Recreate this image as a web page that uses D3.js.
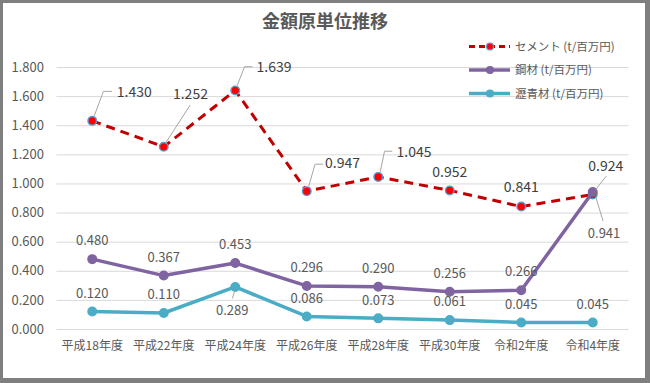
<!DOCTYPE html>
<html>
<head>
<meta charset="utf-8">
<script src="https://cdn.jsdelivr.net/npm/d3@7"></script>
<style>
  html, body { margin: 0; padding: 0; background: #fff; }
  svg { display: block; }
  text { font-family: "Noto Sans CJK JP", "Noto Sans", sans-serif; }
</style>
</head>
<body>
<svg id="chart" width="650" height="383"></svg>
<script>
// ---- data ----
const title = "金額原単位推移";
const categories = ["平成18年度", "平成22年度", "平成24年度", "平成26年度", "平成28年度", "平成30年度", "令和2年度", "令和4年度"];
const seriesNames = ["セメント (t/百万円)", "鋼材 (t/百万円)", "瀝青材 (t/百万円)"];
const cementValues = [1.430, 1.252, 1.639, 0.947, 1.045, 0.952, 0.841, 0.924];
const steelValues = [0.480, 0.367, 0.453, 0.296, 0.290, 0.256, 0.266, 0.941];
const asphaltValues = [0.120, 0.110, 0.289, 0.086, 0.073, 0.061, 0.045, 0.045];
const yTicks = [0, 0.2, 0.4, 0.6, 0.8, 1.0, 1.2, 1.4, 1.6, 1.8];

// ---- layout / style (not data) ----
const W = 650, H = 383;
const plot = { left: 56.5, right: 628.5, top: 67, bottom: 329 };
const colors = { cement: "#C00000", cementMarker: "#FF0000", cementRing: "#5B9BD5", steel: "#8064A2", asphalt: "#4BACC6" };
// label placement relative to point: [dx, dy, anchor, leader points relative to point or null]
const cementLabelPos = [
  { dx: 24.5, dy: -29, anchor: "start", leader: [[2, -5], [11.2, -29.5], [19.7, -29.5]] },
  { dx: 26.7, dy: -52.7, anchor: "middle", leader: [[2, -4], [26.4, -41.7]] },
  { dx: 21.3, dy: -23.7, anchor: "start", leader: [[2, -5], [9.3, -23.7], [17.3, -23.7]] },
  { dx: 18.3, dy: -28, anchor: "start", leader: [[2, -5], [8.3, -27], [16.3, -27]] },
  { dx: 18.3, dy: -25, anchor: "start", leader: [[2, -5], [6.3, -25.7], [14, -25.7]] },
  { dx: 0, dy: -18.5, anchor: "middle", leader: null },
  { dx: 0, dy: -19, anchor: "middle", leader: null },
  { dx: 13, dy: -28.3, anchor: "middle", leader: [[3, -5], [13.4, -18.3]] }
];
const steelLabelPos = steelValues.map((v, i) => i === 7
  ? { dx: 11.3, dy: 41.5, anchor: "middle", leader: [[3, 5], [10.3, 29]] }
  : { dx: 0, dy: -18.6, anchor: "middle", leader: null });
const asphaltLabelPos = asphaltValues.map((v, i) => i === 2
  ? { dx: -3, dy: 24, anchor: "middle", leader: [[-0.5, 4], [-3, 11.6]] }
  : { dx: 0, dy: -18.4, anchor: "middle", leader: null });

const svg = d3.select("#chart");

// frame
svg.append("rect").attr("x", 0).attr("y", 0).attr("width", W).attr("height", H).attr("fill", "#7F7F7F");
svg.append("rect").attr("x", 3).attr("y", 3).attr("width", 642).attr("height", 375).attr("fill", "#FFFFFF");

// scales
const x = d3.scaleBand().domain(categories).range([plot.left, plot.right]).padding(0);
const y = d3.scaleLinear().domain([0, 1.8]).range([plot.bottom, plot.top]);
const cx = c => x(c) + x.bandwidth() / 2;

// y axis + gridlines
const yAxis = svg.append("g")
  .attr("transform", `translate(${plot.left},0)`)
  .call(d3.axisLeft(y).tickValues(yTicks).tickFormat(d3.format(".3f"))
    .tickSize(-(plot.right - plot.left)).tickPadding(12.5));
yAxis.select(".domain").remove();
yAxis.selectAll(".tick line").attr("stroke", "#D9D9D9").attr("stroke-width", 1);
yAxis.selectAll(".tick text").attr("fill", "#595959").attr("font-size", 13)
  .style("font-family", "'Noto Sans CJK JP', sans-serif");

// x axis
const xAxis = svg.append("g")
  .attr("transform", `translate(0,${plot.bottom})`)
  .call(d3.axisBottom(x).tickSize(0).tickPadding(0));
xAxis.select(".domain").remove();
xAxis.selectAll(".tick text").attr("y", 16.7).attr("dy", "0.35em")
  .attr("fill", "#595959").attr("font-size", 12)
  .style("font-family", "'Noto Sans CJK JP', sans-serif");

// title
svg.append("text").attr("x", 325).attr("y", 21.5).attr("dy", "0.35em")
  .attr("text-anchor", "middle").attr("font-size", 18).attr("font-weight", "bold")
  .attr("fill", "#595959").text(title);

const line = d3.line().x((d, i) => cx(categories[i])).y(d => y(d));

function drawSeries(values, opts) {
  const g = svg.append("g");
  g.append("path").datum(values).attr("d", line)
    .attr("fill", "none").attr("stroke", opts.color).attr("stroke-width", opts.width)
    .attr("stroke-dasharray", opts.dash || null).attr("stroke-linejoin", "round");
  g.selectAll("circle").data(values).join("circle")
    .attr("cx", (d, i) => cx(categories[i])).attr("cy", d => y(d)).attr("r", 4.3)
    .attr("fill", opts.markerFill).attr("stroke", opts.markerStroke).attr("stroke-width", 1.4);
  return g;
}

function drawLabels(values, pos, opts) {
  const g = svg.append("g");
  values.forEach((v, i) => {
    const px = cx(categories[i]), py = y(v);
    const p = pos[i];
    if (p.leader) {
      g.append("polyline")
        .attr("points", p.leader.map(q => [px + q[0], py + q[1]].join(",")).join(" "))
        .attr("fill", "none").attr("stroke", "#A6A6A6").attr("stroke-width", 1);
    }
    g.append("text").attr("x", px + p.dx).attr("y", py + p.dy).attr("dy", "0.35em")
      .attr("text-anchor", p.anchor).attr("font-size", opts.size).attr("fill", opts.color)
      .attr("font-weight", opts.weight || "normal")
      .text(d3.format(".3f")(v));
  });
}

drawSeries(asphaltValues, { color: colors.asphalt, width: 3.5, markerFill: colors.asphalt, markerStroke: colors.asphalt });
drawSeries(cementValues, { color: colors.cement, width: 3, dash: "9,6", markerFill: colors.cementMarker, markerStroke: colors.cementRing });
drawSeries(steelValues, { color: colors.steel, width: 3.5, markerFill: colors.steel, markerStroke: colors.steel });

drawLabels(cementValues, cementLabelPos, { size: 14, color: "#404040" });
drawLabels(steelValues, steelLabelPos, { size: 13, color: "#595959" });
drawLabels(asphaltValues, asphaltLabelPos, { size: 13, color: "#595959" });

// legend
const legendStyles = [
  { color: colors.cement, width: 3, dash: "6,4", markerFill: colors.cementMarker, markerStroke: colors.cementRing },
  { color: colors.steel, width: 3.5, dash: null, markerFill: colors.steel, markerStroke: colors.steel },
  { color: colors.asphalt, width: 3.5, dash: null, markerFill: colors.asphalt, markerStroke: colors.asphalt }
];
const legend = svg.append("g");
seriesNames.forEach((name, i) => {
  const ly = 46.5 + i * 23.5;
  const s = legendStyles[i];
  legend.append("line").attr("x1", 469).attr("x2", 510).attr("y1", ly).attr("y2", ly)
    .attr("stroke", s.color).attr("stroke-width", s.width).attr("stroke-dasharray", s.dash);
  legend.append("circle").attr("cx", 490).attr("cy", ly).attr("r", 3.5)
    .attr("fill", s.markerFill).attr("stroke", s.markerStroke).attr("stroke-width", 1.2);
  legend.append("text").attr("x", 515).attr("y", ly).attr("dy", "0.35em")
    .attr("font-size", 11.5).attr("fill", "#595959").text(name);
});
</script>
</body>
</html>
